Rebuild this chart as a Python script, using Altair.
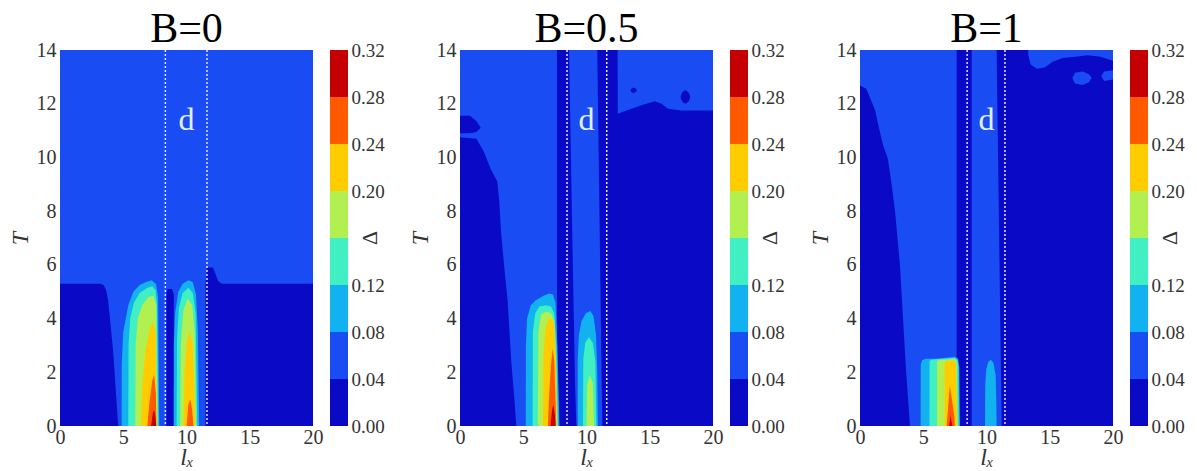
import altair as alt
import pandas as pd

SERIF = "Liberation Serif"

PANEL_TITLES = ["B=0", "B=0.5", "B=1"]
LX_TICKS = [0, 5, 10, 15, 20]
T_TICKS = [0, 2, 4, 6, 8, 10, 12, 14]
LEVELS = [0.00, 0.04, 0.08, 0.12, 0.16, 0.20, 0.24, 0.28, 0.32]
CBAR_LABELS = [0.00, 0.04, 0.08, 0.12, 0.20, 0.24, 0.28, 0.32]
BIN_COLORS = ["#0a0ac6", "#1a4cf4", "#12b2f0", "#40f0c2",
              "#b2f052", "#ffcc00", "#ff5a00", "#c40000"]
DASHED_LX = [[8.33, 11.62], [8.46, 11.60], [8.47, 11.46]]
D_LABEL_POS = [10.0, 11.4]

# Contour regions: (lx, T_low, T_high) along each region
FULL = [(0, 0, 14), (20, 0, 14)]

# ---------------- B = 0 ----------------
B0_D_LEFT = [(0, 0, 5.3), (3.2, 0, 5.3), (3.45, 0, 5.25), (3.65, 0, 5.05), (3.8, 0, 4.7),
             (3.95, 0, 4.0), (4.2, 0, 2.8), (4.4, 0, 1.4), (4.6, 0, 0)]
B0_D_MID = [(8.4, 0, 4.9), (8.5, 0, 5.1), (8.85, 0, 5.1), (9.0, 0, 4.9)]
B0_D_RIGHT = [(11.5, 0, 5.3), (11.62, 0, 5.9), (12.1, 0, 5.9), (12.3, 0, 5.65),
              (12.5, 0, 5.4), (12.8, 0, 5.3), (20, 0, 5.3)]
B0_F1_2 = [(4.87, 0, 0), (4.88, 0, 2.3), (5.0, 0, 3.5), (5.4, 0, 4.5), (5.8, 0, 5.0),
           (6.3, 0, 5.25), (6.8, 0, 5.36), (7.25, 0, 5.43), (7.6, 0, 5.28), (7.75, 0, 4.8), (7.85, 0, 0)]
B0_F1_3 = [(5.4, 0, 0), (5.42, 0, 3.0), (5.55, 0, 4.0), (5.85, 0, 4.6), (6.3, 0, 4.95),
           (6.9, 0, 5.15), (7.3, 0, 5.2), (7.55, 0, 5.05), (7.67, 0, 4.5), (7.77, 0, 0)]
B0_F1_4 = [(5.95, 0, 0), (5.98, 0, 3.0), (6.15, 0, 4.0), (6.5, 0, 4.5), (7.0, 0, 4.8),
           (7.4, 0, 4.85), (7.6, 0, 4.5), (7.7, 0, 0)]
B0_F1_5 = [(6.4, 0, 0), (6.5, 0, 1.5), (6.75, 0, 2.8), (7.1, 0, 3.6), (7.35, 0, 3.9),
           (7.55, 0, 3.5), (7.64, 0, 0)]
B0_F1_6 = [(6.9, 0, 0), (7.05, 0, 0.8), (7.3, 0, 1.7), (7.45, 0, 1.9), (7.58, 0, 1.2), (7.62, 0, 0)]
B0_F1_7 = [(7.2, 0, 0), (7.35, 0, 0.5), (7.45, 0, 0.6), (7.56, 0, 0.3), (7.6, 0, 0)]
B0_F2_2 = [(8.99, 0, 0), (9.0, 0, 3.0), (9.1, 0, 4.2), (9.35, 0, 5.0), (9.7, 0, 5.3),
           (10.15, 0, 5.43), (10.5, 0, 5.35), (10.75, 0, 4.9), (10.9, 0, 3.5), (11.0, 0, 0)]
B0_F2_3 = [(9.22, 0, 0), (9.25, 0, 3.2), (9.4, 0, 4.4), (9.7, 0, 4.95), (10.15, 0, 5.15),
           (10.5, 0, 4.95), (10.72, 0, 4.2), (10.85, 0, 0)]
B0_F2_4 = [(9.5, 0, 0), (9.55, 0, 3.0), (9.75, 0, 4.3), (10.1, 0, 4.75), (10.45, 0, 4.5),
           (10.65, 0, 3.5), (10.75, 0, 0)]
B0_F2_5 = [(9.75, 0, 0), (9.85, 0, 2.0), (10.05, 0, 3.2), (10.25, 0, 3.5), (10.5, 0, 3.0),
           (10.62, 0, 1.5), (10.68, 0, 0)]
B0_F2_6 = [(10.0, 0, 0), (10.15, 0, 0.8), (10.3, 0, 1.0), (10.45, 0, 0.6), (10.55, 0, 0)]

# ---------------- B = 0.5 ----------------
B05_D_LEFT = [(0, 0, 10.75), (1.3, 0, 10.7), (1.9, 0, 10.2), (2.4, 0, 9.6), (2.95, 0, 9.1),
              (3.1, 0, 8.4), (3.25, 0, 7.2), (3.5, 0, 5.9), (3.76, 0, 4.7), (4.07, 0, 2.3),
              (4.3, 0, 1.0), (4.45, 0, 0)]
B05_D_BUMP = [(0, 10.9, 11.55), (0.8, 10.9, 11.55), (1.3, 10.95, 11.35), (1.62, 11.1, 11.12)]
B05_D_STRIP1 = [(7.67, 0, 14), (8.62, 0, 14), (8.9, 0, 6.5), (9.1, 0, 1.5), (9.2, 0, 0)]
B05_D_RIGHT = [(10.85, 14, 14), (11.25, 0, 14), (12.46, 0, 14), (12.47, 0, 11.63),
               (13.55, 0, 11.81), (14.34, 0, 11.94), (15.4, 0, 12.09), (15.93, 0, 12.0),
               (16.45, 0, 11.81), (17.5, 0, 11.75), (20, 0, 11.75)]
B05_D_DOT1 = [(13.5, 12.45, 12.55), (13.7, 12.4, 12.6), (13.95, 12.45, 12.55)]
B05_D_DOT2 = [(17.45, 12.2, 12.3), (17.6, 12.05, 12.45), (17.85, 12.0, 12.5),
              (18.1, 12.1, 12.4), (18.2, 12.25, 12.27)]
B05_F1_2 = [(5.2, 0, 0), (5.21, 0, 3.0), (5.3, 0, 4.0), (5.6, 0, 4.5), (6.0, 0, 4.68),
            (6.6, 0, 4.85), (7.06, 0, 4.93), (7.35, 0, 4.9), (7.55, 0, 4.6), (7.7, 0, 3.0), (7.86, 0, 0)]
B05_F1_3 = [(5.74, 0, 0), (5.76, 0, 3.5), (5.95, 0, 4.2), (6.27, 0, 4.45), (6.8, 0, 4.5),
            (7.2, 0, 4.45), (7.45, 0, 4.2), (7.62, 0, 3.0), (7.75, 0, 0)]
B05_F1_4 = [(6.15, 0, 0), (6.2, 0, 3.5), (6.4, 0, 4.15), (6.8, 0, 4.25), (7.2, 0, 4.2),
            (7.45, 0, 3.9), (7.58, 0, 2.5), (7.68, 0, 0)]
B05_F1_5 = [(6.55, 0, 0), (6.6, 0, 2.5), (6.75, 0, 3.6), (7.0, 0, 4.0), (7.3, 0, 4.0),
            (7.48, 0, 3.6), (7.6, 0, 2.0), (7.65, 0, 0)]
B05_F1_6 = [(6.95, 0, 0), (7.05, 0, 1.2), (7.2, 0, 2.3), (7.33, 0, 2.9), (7.45, 0, 2.4),
            (7.55, 0, 1.0), (7.6, 0, 0)]
B05_F1_7 = [(7.15, 0, 0), (7.28, 0, 0.6), (7.38, 0, 0.8), (7.5, 0, 0.4), (7.55, 0, 0)]
B05_F2_2 = [(9.3, 0, 0), (9.31, 0, 2.5), (9.4, 0, 3.4), (9.6, 0, 3.9), (9.95, 0, 4.2),
            (10.3, 0, 4.28), (10.55, 0, 4.1), (10.75, 0, 3.4), (10.85, 0, 2.0), (10.9, 0, 0)]
B05_F2_3 = [(9.72, 0, 0), (9.75, 0, 2.5), (9.9, 0, 3.1), (10.2, 0, 3.3), (10.5, 0, 3.1),
            (10.7, 0, 2.4), (10.78, 0, 0)]
B05_F2_4 = [(10.0, 0, 0), (10.05, 0, 1.5), (10.25, 0, 1.9), (10.5, 0, 1.6), (10.6, 0, 0)]

# ---------------- B = 1 ----------------
B1_D_LEFT = [(0, 0, 12.68), (0.5, 0, 12.56), (0.9, 0, 12.1), (1.2, 0, 11.75), (1.5, 0, 11.1),
             (1.8, 0, 10.5), (2.2, 0, 9.95), (2.5, 0, 9.0), (2.77, 0, 8.0), (3.16, 0, 6.0),
             (3.4, 0, 4.0), (3.65, 0, 2.0), (3.8, 0, 1.0), (3.95, 0, 0)]
B1_D_STRIP1 = [(7.64, 0, 14), (8.83, 0, 14)]
B1_D_RIGHT = [(10.8, 14, 14), (11.2, 0, 14), (20, 0, 14)]
B1_L_TOP = [(13.3, 13.8, 14), (13.5, 13.45, 14), (14.0, 13.3, 14), (14.6, 13.35, 14),
            (15.2, 13.55, 14), (16.0, 13.7, 14), (17.0, 13.75, 14), (18.0, 13.8, 14),
            (19.0, 13.75, 14), (20, 13.6, 14)]
B1_L_BLOB1 = [(16.8, 12.95, 12.97), (17.0, 12.75, 13.15), (17.6, 12.7, 13.2),
              (18.1, 12.8, 13.1), (18.3, 12.95, 12.97)]
B1_L_BLOB2 = [(19.1, 13.0, 13.05), (19.3, 12.85, 13.2), (20, 12.9, 13.25)]
B1_F1_2 = [(4.79, 0, 0), (4.8, 0, 2.3), (4.9, 0, 2.45), (5.2, 0, 2.5), (6.0, 0, 2.5),
           (7.0, 0, 2.55), (7.5, 0, 2.58), (7.75, 0, 2.5), (7.85, 0, 2.2), (7.9, 0, 0)]
B1_F1_3 = [(5.49, 0, 0), (5.5, 0, 2.4), (5.6, 0, 2.47), (6.5, 0, 2.5), (7.5, 0, 2.53),
           (7.7, 0, 2.45), (7.78, 0, 2.2), (7.8, 0, 0)]
B1_F1_4 = [(6.09, 0, 0), (6.1, 0, 2.4), (6.2, 0, 2.45), (7.0, 0, 2.48), (7.5, 0, 2.5),
           (7.65, 0, 2.4), (7.72, 0, 0)]
B1_F1_5 = [(6.69, 0, 0), (6.7, 0, 2.35), (6.8, 0, 2.42), (7.4, 0, 2.45), (7.6, 0, 2.35), (7.66, 0, 0)]
B1_F1_6 = [(6.85, 0, 0), (7.1, 0, 1.5), (7.45, 0, 0.4), (7.5, 0, 0)]
B1_F1_7 = [(7.05, 0, 0), (7.15, 0, 0.4), (7.3, 0, 0)]
B1_F2_2 = [(9.88, 0, 0), (9.9, 0, 1.5), (9.98, 0, 2.1), (10.15, 0, 2.4), (10.35, 0, 2.47),
           (10.55, 0, 2.35), (10.72, 0, 1.9), (10.78, 0, 0.8), (10.8, 0, 0)]

# (draw order, Δ bin, region)
PANEL_REGIONS = [
    [(0, 1, FULL), (1, 0, B0_D_LEFT), (1, 0, B0_D_MID), (1, 0, B0_D_RIGHT),
     (3, 2, B0_F1_2), (3, 2, B0_F2_2), (4, 3, B0_F1_3), (4, 3, B0_F2_3),
     (5, 4, B0_F1_4), (5, 4, B0_F2_4), (6, 5, B0_F1_5), (6, 5, B0_F2_5),
     (7, 6, B0_F1_6), (7, 6, B0_F2_6), (8, 7, B0_F1_7)],
    [(0, 1, FULL), (1, 0, B05_D_LEFT), (1, 0, B05_D_BUMP), (1, 0, B05_D_STRIP1),
     (1, 0, B05_D_RIGHT), (1, 0, B05_D_DOT1), (1, 0, B05_D_DOT2),
     (3, 2, B05_F1_2), (3, 2, B05_F2_2), (4, 3, B05_F1_3), (4, 3, B05_F2_3),
     (5, 4, B05_F1_4), (5, 4, B05_F2_4), (6, 5, B05_F1_5), (7, 6, B05_F1_6), (8, 7, B05_F1_7)],
    [(0, 1, FULL), (1, 0, B1_D_LEFT), (1, 0, B1_D_STRIP1), (1, 0, B1_D_RIGHT),
     (2, 1, B1_L_TOP), (2, 1, B1_L_BLOB1), (2, 1, B1_L_BLOB2),
     (3, 2, B1_F1_2), (3, 2, B1_F2_2), (4, 3, B1_F1_3), (5, 4, B1_F1_4),
     (6, 5, B1_F1_5), (7, 6, B1_F1_6), (8, 7, B1_F1_7)],
]

PW, PH, CBW, GAP, SPACER = 253, 376, 18, 17, 78
x_scale = alt.Scale(domain=[0, 20], nice=False, zero=False)
y_scale = alt.Scale(domain=[0, 14], nice=False, zero=False)
x_axis = alt.Axis(values=LX_TICKS, title="lₓ", ticks=False, domain=False, grid=False,
                  labelFont=SERIF, labelFontSize=20, labelColor="#333", labelPadding=1,
                  titleFont=SERIF, titleFontSize=24, titleFontStyle="italic",
                  titleFontWeight="normal", titleColor="#333", titlePadding=-2,
                  labelFlush=False)
y_axis = alt.Axis(values=T_TICKS, title="T", ticks=False, domain=False, grid=False,
                  labelFont=SERIF, labelFontSize=20, labelColor="#333", labelPadding=4,
                  titleFont=SERIF, titleFontSize=24, titleFontStyle="italic",
                  titleFontWeight="normal", titleColor="#333", titlePadding=4,
                  labelFlush=False)
cb_scale = alt.Scale(domain=[0, 0.32], nice=False, zero=False)
cb_axis = alt.Axis(orient="right", values=CBAR_LABELS, format=".2f",
                   ticks=False, domain=False, grid=False, title=None,
                   labelFont=SERIF, labelFontSize=19, labelColor="#333", labelPadding=3)

cb_df = pd.DataFrame({"lo": LEVELS[:-1], "hi": LEVELS[1:], "col": BIN_COLORS})

charts = []
for p, regions in enumerate(PANEL_REGIONS):
    layers = []
    for z in range(9):
        rows = []
        for k, (zz, b, pts) in enumerate(regions):
            if zz != z:
                continue
            for i, (lx, lo, hi) in enumerate(pts):
                rows.append({"patch": f"r{k:02d}", "lx": float(lx), "lo": float(lo),
                             "hi": float(hi), "col": BIN_COLORS[b]})
        if not rows:
            continue
        layers.append(
            alt.Chart(pd.DataFrame(rows)).mark_area(interpolate="linear").encode(
                x=alt.X("lx:Q", scale=x_scale, axis=x_axis),
                y=alt.Y("lo:Q", scale=y_scale, axis=y_axis),
                y2=alt.Y2("hi"),
                color=alt.Color("col:N", scale=None),
                detail=alt.Detail("patch:N"),
            )
        )
    rules = alt.Chart(pd.DataFrame({"lx": DASHED_LX[p]})).mark_rule(
        color="#dfe4ff", strokeDash=[2, 2], strokeWidth=1.5
    ).encode(x=alt.X("lx:Q", scale=x_scale, axis=x_axis))
    dlab = alt.Chart(pd.DataFrame({"lx": [D_LABEL_POS[0]], "T": [D_LABEL_POS[1]], "t": ["d"]})).mark_text(
        font=SERIF, fontSize=32, color="#e0f0ff"
    ).encode(x=alt.X("lx:Q", scale=x_scale, axis=x_axis),
             y=alt.Y("T:Q", scale=y_scale, axis=y_axis), text="t:N")
    heat = alt.layer(*layers, rules, dlab).properties(
        width=PW, height=PH,
        title=alt.TitleParams(PANEL_TITLES[p], font=SERIF, fontSize=42, fontWeight="normal",
                              color="black", anchor="middle", frame="group", offset=-11),
    )

    cbar = alt.Chart(cb_df).mark_rect().encode(
        y=alt.Y("lo:Q", scale=cb_scale, axis=cb_axis),
        y2="hi",
        color=alt.Color("col:N", scale=None),
    )
    delta = alt.Chart(pd.DataFrame({"v": [0.16], "t": ["Δ"]})).mark_text(
        font=SERIF, fontSize=22, color="#333", angle=270
    ).encode(x=alt.value(CBW + 22), y=alt.Y("v:Q", scale=cb_scale, axis=cb_axis), text="t:N")
    cb = alt.layer(cbar, delta).properties(width=CBW, height=PH)

    charts.extend([heat, cb])
    if p < len(PANEL_REGIONS) - 1:
        spacer = alt.Chart(pd.DataFrame({"a": [0]})).mark_point(opacity=0).encode(
            x=alt.value(0), y=alt.value(0)
        ).properties(width=SPACER, height=PH)
        charts.append(spacer)

chart = alt.hconcat(*charts, spacing=GAP, bounds="flush").properties(
    padding={"left": 0, "top": 0, "right": 0, "bottom": 0}
).configure_view(strokeWidth=0)

chart.save("out.html", embed_options={"renderer": "svg", "actions": False})
